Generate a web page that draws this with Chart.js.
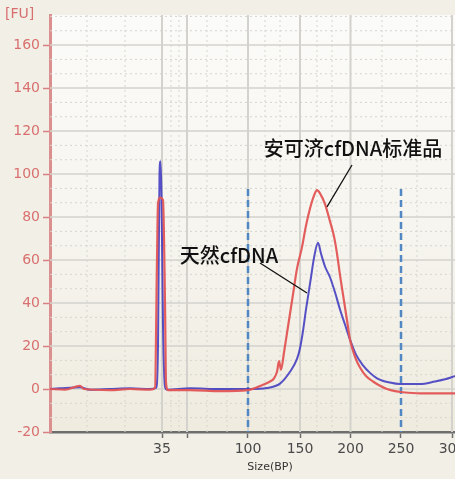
<!DOCTYPE html>
<html>
<head>
<meta charset="utf-8">
<script src="https://cdn.jsdelivr.net/npm/chart.js@4.4.1/dist/chart.umd.min.js"></script>
<style>
  html, body { margin: 0; padding: 0; overflow: hidden; background: #f1efe6; width: 455px; height: 479px; }
  #wrap { position: absolute; left: 0; top: 0; width: 495px; height: 479px; }
</style>
</head>
<body>
<div id="wrap"><canvas id="c" width="495" height="479"></canvas></div>
<script>
// Ladder: migration time (s) of each size marker, and its label (bp)
const ladderTimes  = [51.2, 53.7, 59.8, 65.0, 70.05, 75.1, 80.2];
const ladderLabels = ['35', '', '100', '150', '200', '250', '300'];

// Region markers (migration time)
const regionTimes = [59.8, 75.1];

// 安可济cfDNA标准品 trace: migration time (s) and fluorescence (FU)
const redTime = [40.0, 41.5, 43.0, 43.4, 46.0, 48.0, 50.0, 50.5, 50.7, 50.8, 51.0, 51.3, 51.5, 51.6, 51.8,
  54.0, 57.0, 59.8, 61.3, 62.0, 62.4, 62.7, 62.9, 63.1, 63.4, 63.7, 64.0, 64.3, 64.7, 65.2, 65.6, 66.0,
  66.4, 66.7, 67.0, 67.5, 68.0, 68.4, 68.7, 69.0, 69.4, 69.7, 70.0, 70.5, 71.0, 71.6, 72.3, 73.0, 73.7, 74.5,
  75.3, 77.0, 79.0, 82.0, 84.0];
const redFU = [0, -0.3, 1.5, 0, -0.5, 0, -0.3, 0.5, 60, 86, 89, 88, 40, 3, -0.5,
  -0.5, -1, -0.5, 2, 3.5, 5, 8, 13, 9, 17, 26, 35, 44, 56, 66, 76, 84,
  90, 92.5, 91, 86, 78, 71, 63, 53, 41, 32, 23, 15, 10, 6, 3.5, 1.5, 0, -1,
  -1.5, -2, -2, -2, -2];

// 天然cfDNA trace
const blueTime = [40.0, 41.0, 43.0, 44.0, 46.0, 48.0, 50.0, 50.6, 50.8, 50.95, 51.05, 51.15, 51.3, 51.5, 51.7,
  54.0, 57.0, 59.8, 61.7, 63.0, 64.0, 64.7, 65.0, 65.3, 65.6, 65.8, 66.1, 66.4, 66.8, 67.1, 67.5, 68.0,
  68.5, 69.0, 69.5, 70.0, 70.6, 71.3, 72.0, 72.7, 74.0, 75.0, 77.0, 78.5, 79.5, 80.5, 82.0, 84.0];
const blueFU = [0, 0.3, 0.8, -0.3, 0, 0.3, 0, 0.5, 20, 100, 106, 90, 30, 1, -0.3,
  0.3, 0, 0, 0.5, 2.5, 8, 14, 19, 27, 37, 43, 52, 61, 68, 63, 57, 52,
  45, 37, 30, 23, 16, 11, 7.5, 5, 3, 2.3, 2.3, 3.5, 4.5, 6, 8, 10];

const seriesNames = ['安可济cfDNA标准品', '天然cfDNA'];

// Callout texts with anchor (time, FU) and pointer line ends
const callouts = [
  { text: seriesNames[0], at: [70.3, 112.1], from: [70.2, 104.2], to: [67.7, 84.7] },
  { text: seriesNames[1], at: [57.9, 62.3], from: [61.0, 58.6], to: [65.7, 44.7] }
];

const minorTimes = [43.7, 47.5, 52.1, 52.9, 55.7, 57.7, 61.5, 63.0, 66.7, 68.2, 73.2, 76.7, 83.0];

const toXY = (ts, vs) => ts.map((t, i) => ({ x: t, y: vs[i] }));

const bgPlugin = {
  id: 'bg',
  beforeDraw(chart) {
    const { ctx, chartArea: a } = chart;
    const g = ctx.createLinearGradient(0, a.top, 0, a.bottom);
    g.addColorStop(0, '#fbfbf9');
    g.addColorStop(0.5, '#f6f5ef');
    g.addColorStop(1, '#efebdf');
    ctx.save();
    ctx.fillStyle = g;
    ctx.fillRect(a.left, a.top, a.right - a.left, a.bottom - a.top);
    ctx.restore();
  },
  beforeDatasetsDraw(chart) {
    const { ctx, chartArea: a, scales: { x, y } } = chart;
    ctx.save();
    for (let v = -20; v <= 180; v += 20) {
      const py = y.getPixelForValue(v);
      if (py >= a.top && py < a.bottom - 1) {
        ctx.strokeStyle = '#d3d2cc'; ctx.lineWidth = 1.5; ctx.setLineDash([]);
        ctx.beginPath(); ctx.moveTo(a.left, py); ctx.lineTo(a.right, py); ctx.stroke();
      }
      for (const f of [1 / 3, 2 / 3]) {
        const pm = y.getPixelForValue(v + 20 * f);
        if (pm > a.top && pm < a.bottom) {
          ctx.strokeStyle = '#d6d5cf'; ctx.lineWidth = 1; ctx.setLineDash([2, 3]);
          ctx.beginPath(); ctx.moveTo(a.left, pm); ctx.lineTo(a.right, pm); ctx.stroke();
        }
      }
    }
    ctx.setLineDash([2, 3]); ctx.strokeStyle = '#d6d5cf'; ctx.lineWidth = 1;
    minorTimes.forEach(t => {
      const px = x.getPixelForValue(t);
      ctx.beginPath(); ctx.moveTo(px, a.top); ctx.lineTo(px, a.bottom); ctx.stroke();
    });
    ctx.setLineDash([]); ctx.strokeStyle = '#d3d2cc'; ctx.lineWidth = 2;
    ladderTimes.forEach((t, i) => {
      if (ladderLabels[i] === '250') return;
      const px = x.getPixelForValue(t);
      ctx.beginPath(); ctx.moveTo(px, a.top); ctx.lineTo(px, a.bottom); ctx.stroke();
    });
    ctx.setLineDash([7, 4]); ctx.strokeStyle = '#5188c4'; ctx.lineWidth = 2.5;
    regionTimes.forEach(t => {
      const px = x.getPixelForValue(t);
      ctx.beginPath(); ctx.moveTo(px, y.getPixelForValue(93)); ctx.lineTo(px, a.bottom); ctx.stroke();
    });
    ctx.restore();
  },
  afterDraw(chart) {
    const { ctx, scales: { x, y } } = chart;
    ctx.save();
    ctx.fillStyle = '#d86f6f';
    ctx.font = '14px "DejaVu Sans"';
    ctx.textBaseline = 'middle';
    ctx.textAlign = 'left';
    ctx.fillText('[FU]', 5, 14);
    ctx.fillStyle = '#111';
    ctx.strokeStyle = '#111';
    ctx.lineWidth = 1.3;
    ctx.font = '500 20px "Noto Sans CJK SC"';
    ctx.textAlign = 'center';
    callouts.forEach(c => {
      ctx.fillText(c.text, x.getPixelForValue(c.at[0]), y.getPixelForValue(c.at[1]));
      ctx.beginPath();
      ctx.moveTo(x.getPixelForValue(c.from[0]), y.getPixelForValue(c.from[1]));
      ctx.lineTo(x.getPixelForValue(c.to[0]), y.getPixelForValue(c.to[1]));
      ctx.stroke();
    });
    ctx.restore();
  }
};

new Chart(document.getElementById('c'), {
  type: 'line',
  data: {
    datasets: [
      { label: seriesNames[0], data: toXY(redTime, redFU), borderColor: 'rgba(226,84,84,0.95)', borderWidth: 2.2,
        pointRadius: 0, cubicInterpolationMode: 'monotone', fill: false },
      { label: seriesNames[1], data: toXY(blueTime, blueFU), borderColor: 'rgba(58,52,190,0.85)', borderWidth: 2,
        pointRadius: 0, cubicInterpolationMode: 'monotone', fill: false }
    ]
  },
  options: {
    responsive: false,
    animation: false,
    layout: { padding: { top: 15, right: 5, left: 0, bottom: 0 } },
    plugins: { legend: { display: false }, tooltip: { enabled: false } },
    scales: {
      x: {
        type: 'linear', min: 40, max: 84,
        afterBuildTicks: s => { s.ticks = ladderTimes.map(v => ({ value: v })); },
        afterFit: s => { s.height = 47; },
        ticks: {
          autoSkip: false, maxRotation: 0, padding: 3, color: '#4a4a4a',
          font: { family: 'DejaVu Sans', size: 14 },
          callback: (v, i) => ladderLabels[i]
        },
        grid: { drawOnChartArea: false, drawTicks: true, tickLength: 6, tickColor: '#6e6e6e', tickWidth: 1.5 },
        border: { color: '#6e6e6e', width: 2.5 },
        title: { display: true, text: 'Size(BP)', color: '#333', font: { family: 'DejaVu Sans', size: 11 },
          padding: { top: 0, bottom: 5 } }
      },
      y: {
        type: 'linear', min: -20, max: 174,
        afterFit: s => { s.width = 50; },
        ticks: { stepSize: 20, includeBounds: false, padding: 3, color: '#d9706f',
          font: { family: 'DejaVu Sans', size: 14 } },
        grid: { drawOnChartArea: false, drawTicks: true, tickLength: 7, tickColor: '#d98080', tickWidth: 1.5 },
        border: { color: '#dc8f8f', width: 3 }
      }
    }
  },
  plugins: [bgPlugin]
});
</script>
</body>
</html>
